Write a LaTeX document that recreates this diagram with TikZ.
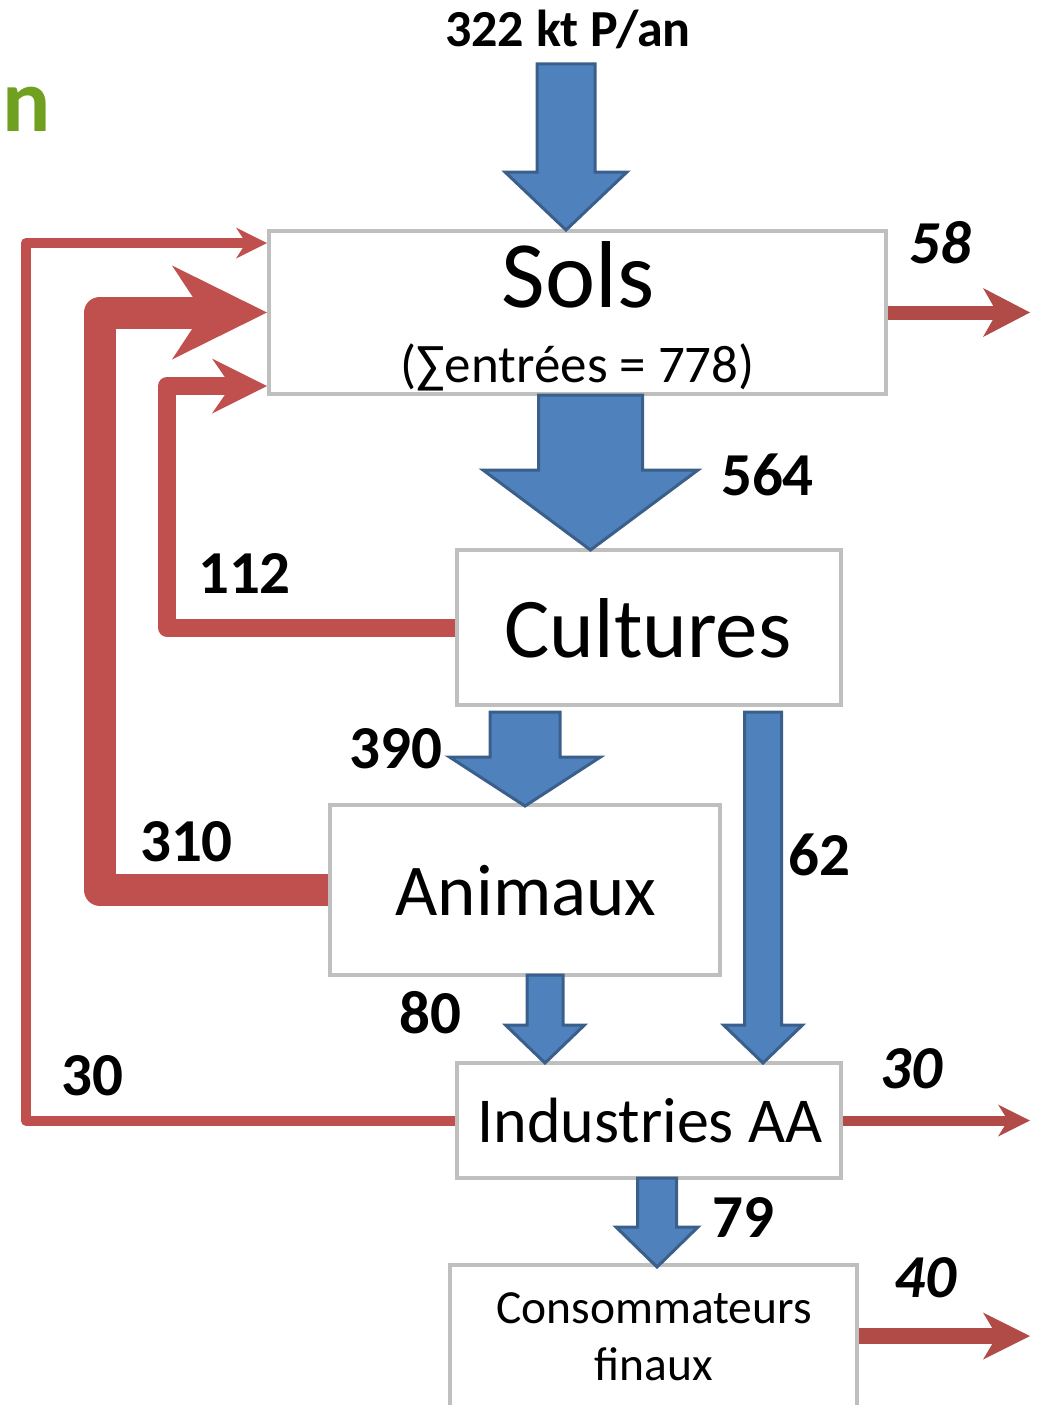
\documentclass[tikz,border=0pt]{standalone}
\usepackage{fontspec}
\setmainfont{Carlito}
\usetikzlibrary{arrows.meta,calc,backgrounds}
\definecolor{bfill}{HTML}{4F81BD}
\definecolor{bline}{HTML}{3A5F8B}
\definecolor{rline}{HTML}{C0504D}
\definecolor{rout}{HTML}{B14B48}
\definecolor{gbox}{HTML}{BFBFBF}
\definecolor{tgreen}{HTML}{70A020}
\newcommand\fsz[1]{\fontsize{#1}{#1}\selectfont}
\newcommand\bArrow[6]{%
  \draw[blockarrow] (#1-#2,#3) -- (#1+#2,#3) -- (#1+#2,#4) -- (#1+#5,#4)
    -- (#1,#6) -- (#1-#5,#4) -- (#1-#2,#4) -- cycle;}
\begin{document}
\begin{tikzpicture}[x=1pt,y=-1pt,
  box/.style={draw=gbox, line width=4pt, fill=white, inner sep=0pt, rectangle},
  blockarrow/.style={fill=bfill, draw=bline, line width=3pt, line join=miter},
  flow/.style={draw=rline, line join=round},
  outflow/.style={draw=rout},
  txt/.style={anchor=base, inner sep=0pt},
  lbl/.style={anchor=base, inner sep=0pt, font=\bfseries\fsz{61}},
  ilbl/.style={anchor=base, inner sep=0pt, font=\bfseries\itshape\fsz{61}}]
\useasboundingbox (0,0) rectangle (1037,1405);

% ---- corner / end coordinates ----
\coordinate (c30) at (26,243);
\coordinate (c112) at (167,386);
\coordinate (c310) at (100,312.5);
\coordinate (o58) at (1030,312.5);
\coordinate (o30) at (1030,1120.5);
\coordinate (o40) at (1030,1336);

% ---- boxes ----
\node[box, minimum width=617pt, minimum height=163pt] (sols) at (577.5,312.5) {};
\node[box, minimum width=384pt, minimum height=155pt] (cult) at (649,627.5) {};
\node[box, minimum width=390pt, minimum height=170pt] (anim) at (525,890) {};
\node[box, minimum width=384pt, minimum height=115pt] (ind) at (649,1120.5) {};
\node[box, minimum width=407pt, minimum height=142pt] (cons) at (653.5,1336) {};

\coordinate (s30) at ($(sols.north west)+(0,14)$);
\coordinate (s112) at ($(sols.south west)+(0,-10)$);

% ---- red flows (behind the boxes) ----
\begin{pgfonlayer}{background}
\draw[flow, line width=10pt, -{Stealth[length=31pt, width=31pt, inset=10pt, line width=0pt]}]
  (ind.west) -| (c30) -- (s30);
\draw[flow, line width=18pt, -{Stealth[length=55pt, width=55pt, inset=19pt, line width=0pt]}]
  (cult.west) -| (c112) -- (s112);
\draw[flow, line width=32pt, -{Stealth[length=95pt, width=94pt, inset=31pt, line width=0pt]}]
  (anim.west) -| (c310) -- (sols.west);
\draw[outflow, line width=14pt, -{Stealth[length=47pt, width=49pt, inset=14pt, line width=0pt]}]
  (sols.east) -- (o58);
\draw[outflow, line width=10pt, -{Stealth[length=32pt, width=32pt, inset=10pt, line width=0pt]}]
  (ind.east) -- (o30);
\draw[outflow, line width=16pt, -{Stealth[length=47pt, width=47pt, inset=14pt, line width=0pt]}]
  (cons.east) -- (o40);
\end{pgfonlayer}

% ---- blue flows ----
\bArrow{566}{29}{64}{172}{61}{230}
\bArrow{590.5}{52}{395}{470}{107.5}{550}
\bArrow{525}{35}{712}{757}{75.5}{806}
\bArrow{763}{18.5}{712}{1025}{39.5}{1063}
\bArrow{545}{18}{975}{1025}{39.5}{1063}
\bArrow{657}{19.5}{1178}{1227}{41}{1267}

% ---- texts ----
\node[txt, font=\color{tgreen}\bfseries\fsz{90}, anchor=base west] (title) at (2,131) {n};
\node[txt, font=\bfseries\fsz{52}] (input) at (568,47) {322 kt P/an};
\node[txt, font=\fsz{95}] (solst) at (578,307) {Sols};
\node[txt, font=\fsz{53}] (solss) at (577.5,382) {(∑entrées = 778)};
\node[txt, font=\fsz{85}] (cultt) at (648,657) {Cultures};
\node[txt, font=\fsz{73}] (animt) at (526,915) {Animaux};
\node[txt, font=\fsz{64}] (indt) at (650,1142) {Industries AA};
\node[txt, font=\fsz{47.5}] (const) at (654,1323) {Consommateurs};
\node[txt, font=\fsz{47.5}] (consf) at (654,1380) {finaux};

\node[lbl] (l564) at (767.5,495) {564};
\node[lbl] (l112) at (244.5,593) {112};
\node[lbl] (l390) at (396,768) {390};
\node[lbl] (l310) at (186.5,861) {310};
\node[lbl] (l62) at (819,875) {62};
\node[lbl] (l80) at (430,1033) {80};
\node[lbl] (l30) at (92.5,1095) {30};
\node[lbl] (l79) at (743.5,1237) {79};
\node[ilbl] (l58) at (940,263) {58};
\node[ilbl] (l30b) at (911,1088) {30};
\node[ilbl] (l40) at (925,1297) {40};
\end{tikzpicture}
\end{document}
